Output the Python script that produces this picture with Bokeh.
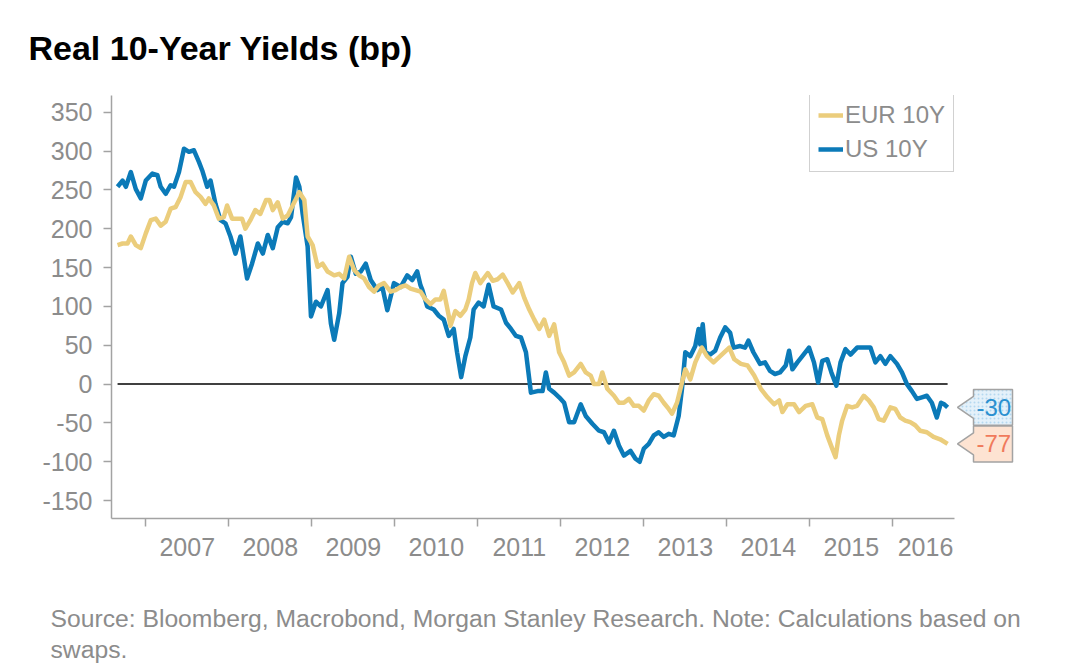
from bokeh.plotting import figure
from bokeh.models import (FixedTicker, Legend, LegendItem, Title, CustomJSTickFormatter)
from bokeh.core.properties import value
from bokeh.embed import file_html
from bokeh.resources import INLINE

# ---------------- data (decimal years, basis points) ----------------
us_dates = [2006.66, 2006.72, 2006.76, 2006.82, 2006.88, 2006.94, 2007.00, 2007.08, 2007.14, 2007.18,
            2007.24, 2007.30, 2007.34, 2007.40, 2007.46, 2007.52, 2007.58, 2007.64, 2007.68, 2007.74,
            2007.78, 2007.84, 2007.90, 2007.96, 2008.02, 2008.08, 2008.14, 2008.22, 2008.28, 2008.35,
            2008.41, 2008.47, 2008.53, 2008.59, 2008.65, 2008.71, 2008.75, 2008.81, 2008.85, 2008.89,
            2008.95, 2008.99, 2009.05, 2009.11, 2009.19, 2009.23, 2009.27, 2009.33, 2009.37, 2009.43,
            2009.47, 2009.53, 2009.59, 2009.65, 2009.71, 2009.79, 2009.85, 2009.91, 2009.99, 2010.07,
            2010.15, 2010.21, 2010.27, 2010.31, 2010.33, 2010.39, 2010.47, 2010.53, 2010.59, 2010.65,
            2010.71, 2010.75, 2010.80, 2010.85, 2010.91, 2010.95, 2011.01, 2011.07, 2011.13, 2011.19,
            2011.28, 2011.34, 2011.40, 2011.46, 2011.52, 2011.58, 2011.64, 2011.72, 2011.78, 2011.82,
            2011.86, 2011.92, 2011.98, 2012.04, 2012.10, 2012.16, 2012.24, 2012.30, 2012.38, 2012.46,
            2012.52, 2012.58, 2012.64, 2012.70, 2012.76, 2012.84, 2012.90, 2012.95, 2013.00, 2013.06,
            2013.12, 2013.18, 2013.24, 2013.30, 2013.36, 2013.42, 2013.46, 2013.50, 2013.56, 2013.62,
            2013.66, 2013.68, 2013.71, 2013.74, 2013.80, 2013.86, 2013.92, 2013.98, 2014.04, 2014.08,
            2014.16, 2014.22, 2014.26, 2014.32, 2014.40, 2014.46, 2014.52, 2014.58, 2014.64, 2014.71,
            2014.75, 2014.79, 2014.85, 2014.91, 2014.99, 2015.05, 2015.10, 2015.15, 2015.21, 2015.26,
            2015.32, 2015.37, 2015.43, 2015.49, 2015.57, 2015.65, 2015.73, 2015.79, 2015.85, 2015.91,
            2015.97, 2016.05, 2016.11, 2016.17, 2016.23, 2016.29, 2016.35, 2016.41, 2016.47, 2016.53,
            2016.58, 2016.62, 2016.66]
us_values = [254, 262, 254, 273, 251, 239, 262, 271, 269, 254,
             245, 256, 254, 273, 303, 299, 301, 286, 275, 254,
             262, 232, 211, 207, 190, 168, 190, 136, 155, 181,
             168, 192, 175, 202, 209, 207, 215, 266, 254, 219,
             177, 87, 106, 100, 121, 78, 57, 91, 130, 138,
             164, 142, 145, 155, 134, 121, 125, 95, 130, 125,
             140, 134, 145, 127, 122, 100, 96, 88, 83, 62,
             71, 41, 9, 36, 60, 96, 105, 100, 128, 100,
             96, 79, 71, 62, 60, 41, -11, -9, -9, 15,
             -6, -11, -17, -24, -49, -49, -26, -41, -51, -60,
             -62, -75, -60, -79, -92, -86, -96, -100, -83, -77,
             -66, -62, -68, -64, -66, -41, -6, 41, 36, 49,
             71, 51, 77, 41, 38, 43, 60, 73, 66, 47,
             49, 47, 56, 41, 26, 28, 17, 13, 15, 24,
             43, 19, 28, 36, 47, 28, 2, 30, 32, 15,
             -2, 28, 45, 38, 47, 47, 47, 28, 36, 26,
             36, 26, 15, 0, -9, -19, -17, -15, -24, -43,
             -24, -26, -30]

eur_dates = [2006.66, 2006.72, 2006.78, 2006.82, 2006.88, 2006.94, 2007.00, 2007.06, 2007.12, 2007.18,
             2007.24, 2007.30, 2007.36, 2007.42, 2007.48, 2007.54, 2007.60, 2007.66, 2007.72, 2007.76,
             2007.82, 2007.88, 2007.94, 2007.98, 2008.04, 2008.10, 2008.16, 2008.20, 2008.26, 2008.32,
             2008.38, 2008.45, 2008.49, 2008.53, 2008.59, 2008.65, 2008.71, 2008.77, 2008.85, 2008.91,
             2008.95, 2009.01, 2009.07, 2009.13, 2009.19, 2009.27, 2009.33, 2009.39, 2009.45, 2009.51,
             2009.57, 2009.63, 2009.69, 2009.75, 2009.81, 2009.87, 2009.95, 2010.01, 2010.07, 2010.13,
             2010.19, 2010.31, 2010.37, 2010.43, 2010.49, 2010.55, 2010.59, 2010.65, 2010.67, 2010.73,
             2010.79, 2010.85, 2010.89, 2010.93, 2010.97, 2011.03, 2011.12, 2011.18, 2011.24, 2011.30,
             2011.36, 2011.42, 2011.50, 2011.56, 2011.62, 2011.68, 2011.74, 2011.80, 2011.86, 2011.92,
             2011.98, 2012.04, 2012.10, 2012.16, 2012.24, 2012.30, 2012.36, 2012.40, 2012.46, 2012.50,
             2012.56, 2012.64, 2012.70, 2012.76, 2012.82, 2012.88, 2012.94, 2013.00, 2013.06, 2013.12,
             2013.18, 2013.24, 2013.30, 2013.34, 2013.40, 2013.46, 2013.50, 2013.56, 2013.62, 2013.70,
             2013.76, 2013.84, 2013.92, 2014.03, 2014.09, 2014.17, 2014.25, 2014.33, 2014.41, 2014.49,
             2014.57, 2014.63, 2014.67, 2014.73, 2014.81, 2014.87, 2014.95, 2015.03, 2015.09, 2015.15,
             2015.21, 2015.27, 2015.31, 2015.35, 2015.39, 2015.45, 2015.51, 2015.57, 2015.65, 2015.71,
             2015.77, 2015.83, 2015.89, 2015.97, 2016.03, 2016.09, 2016.15, 2016.21, 2016.27, 2016.33,
             2016.41, 2016.49, 2016.57, 2016.66]
eur_values = [179, 181, 181, 190, 179, 175, 194, 211, 213, 204,
              209, 226, 228, 241, 260, 260, 247, 241, 232, 239,
              230, 213, 215, 230, 213, 213, 213, 200, 211, 224,
              219, 237, 237, 224, 234, 213, 217, 230, 247, 237,
              190, 179, 151, 155, 145, 140, 142, 136, 164, 147,
              140, 136, 125, 119, 127, 130, 119, 121, 125, 127,
              123, 119, 109, 103, 109, 109, 120, 88, 75, 94,
              88, 96, 109, 130, 143, 130, 143, 133, 135, 141,
              130, 118, 130, 111, 96, 83, 71, 83, 62, 77,
              41, 28, 11, 15, 26, 15, 11, 0, 0, 15,
              -6, -15, -24, -24, -19, -28, -28, -34, -21, -13,
              -15, -24, -32, -38, -24, 2, 19, 6, 28, 47,
              36, 28, 36, 47, 32, 26, 24, 11, -6, -17,
              -26, -21, -36, -26, -26, -36, -28, -26, -43, -45,
              -66, -83, -94, -66, -47, -28, -30, -28, -15, -21,
              -30, -45, -47, -30, -32, -43, -47, -49, -53, -60,
              -62, -68, -71, -77]

year_labels = list(range(2007, 2017))
y_ticks = list(range(-150, 351, 50))
series_names = ["EUR 10Y", "US 10Y"]

TITLE = "Real 10-Year Yields (bp)"
SOURCE_LINES = ["Source: Bloomberg, Macrobond, Morgan Stanley Research. Note: Calculations based on",
                "swaps."]

# ---------------- styling / geometry ----------------
US_COLOR = "#0b7ab8"
EUR_COLOR = "#ebcd7c"
GREY_TEXT = "#8c8c8c"
GREY_LINE = "#a3a3a3"
FONT = "Liberation Sans"

W, H = 1080, 665
BL, BT = 111, 95            # frame left / top
AXIS_PX = 843               # length of the drawn x axis
FRAME_PX = 909              # frame width (axis + room for end-value callouts)
FRAME_H = 424
BR = W - BL - FRAME_PX
BB = H - BT - FRAME_H

X_START, X_AXIS_END = 2006.587, 2016.743
Y_START, Y_END = -173.0, 371.5
ppx = AXIS_PX / (X_AXIS_END - X_START)     # pixels per year
ppy = FRAME_H / (Y_END - Y_START)          # pixels per bp
X_END = X_START + FRAME_PX / ppx

p = figure(width=W, height=H, x_range=(X_START, X_END), y_range=(Y_START, Y_END),
           output_backend="svg", toolbar_location=None,
           min_border_left=BL, min_border_right=BR, min_border_top=BT, min_border_bottom=BB)
p.outline_line_color = None
p.grid.visible = False
p.background_fill_color = "white"
p.border_fill_color = "white"

# title
p.title.text = TITLE
p.title.text_font = FONT
p.title.text_font_size = "34px"
p.title.text_font_style = "bold"
p.title.text_color = "black"
p.title.align = "left"
p.title.vertical_align = "top"
p.title.offset = 28 - BL
p.title.standoff = 53

# x axis: tick marks at year boundaries (minor), labels mid-year
half_label = 29.0 / ppx
label_pos = [min(y + 0.5, X_AXIS_END - half_label) for y in year_labels]
xa = p.xaxis[0]
xa.bounds = (X_START, X_AXIS_END)
xa.ticker = FixedTicker(ticks=label_pos, minor_ticks=[float(y) for y in year_labels])
xa.formatter = CustomJSTickFormatter(code="return Math.floor(tick).toString();")
xa.major_tick_line_color = None
xa.major_tick_out = 8
xa.major_tick_in = 0
xa.minor_tick_line_color = GREY_LINE
xa.minor_tick_line_width = 1.5
xa.minor_tick_out = 8
xa.minor_tick_in = 0
xa.axis_line_color = GREY_LINE
xa.axis_line_width = 1.5
xa.major_label_text_font = FONT
xa.major_label_text_font_size = "25px"
xa.major_label_text_color = GREY_TEXT
xa.major_label_standoff = 11

ya = p.yaxis[0]
ya.ticker = FixedTicker(ticks=y_ticks)
ya.formatter = CustomJSTickFormatter(code="return tick.toFixed(0);")
ya.major_tick_line_color = GREY_LINE
ya.major_tick_line_width = 1.5
ya.major_tick_out = 8
ya.major_tick_in = 0
ya.minor_tick_line_color = None
ya.axis_line_color = GREY_LINE
ya.axis_line_width = 1.5
ya.major_label_text_font = FONT
ya.major_label_text_font_size = "25px"
ya.major_label_text_color = GREY_TEXT
ya.major_label_standoff = 11

# source note below the axis (two lines), preceded by a blank spacer
spacer = Title(text=" ", text_font_size="1px", standoff=43)
src = Title(text="\n".join(SOURCE_LINES), align="left", vertical_align="top",
            offset=50 - BL, standoff=0,
            text_font=FONT, text_font_size="24.7px", text_font_style="normal",
            text_color=GREY_TEXT, text_line_height=1.174)
p.add_layout(spacer, "below")
p.add_layout(src, "below")

# zero line across the data span
p.segment(x0=[min(us_dates[0], eur_dates[0])], x1=[max(us_dates[-1], eur_dates[-1])],
          y0=[0], y1=[0], line_color="black", line_width=1.5)

us_r = p.line(us_dates, us_values, line_color=US_COLOR, line_width=4.5, line_join="round")
eur_r = p.line(eur_dates, eur_values, line_color=EUR_COLOR, line_width=4.5, line_join="round")

legend = Legend(items=[LegendItem(label=series_names[0], renderers=[eur_r]),
                       LegendItem(label=series_names[1], renderers=[us_r])],
                location=(809 - BL, BT + FRAME_H - 173), margin=0, padding=8, spacing=6,
                glyph_width=25, glyph_height=28, label_height=28, label_standoff=2,
                label_text_font=FONT, label_text_font_size="24px", label_text_color=GREY_TEXT,
                border_line_color=GREY_LINE, border_line_width=1.5,
                background_fill_color="white", background_fill_alpha=1.0)
p.add_layout(legend)

# end-value callouts
def callout(v, fill, text_color, hatch=None):
    tip_x = X_AXIS_END + 3 / ppx
    box_l = tip_x + 16 / ppx
    box_r = tip_x + 55 / ppx
    half = 18 / ppy
    notch = 11 / ppy
    xs = [tip_x, box_l, box_l, box_r, box_r, box_l, box_l]
    ys = [v, v + notch, v + half, v + half, v - half, v - half, v - notch]
    kw = {}
    if hatch:
        kw = dict(hatch_pattern=hatch, hatch_color="#b5d8f0", hatch_scale=4, hatch_weight=1)
    p.patch(xs, ys, fill_color=fill, line_color=GREY_LINE, line_width=1.5, **kw)
    p.text(x=[box_l + 3 / ppx], y=[v], text=[str(int(round(v)))],
           text_font=value(FONT), text_font_size="24px", text_color=text_color,
           text_align="left", text_baseline="middle")

callout(us_values[-1], "#e4f1fa", "#2b90d0", hatch="dot")
callout(eur_values[-1], "#fde3d2", "#f07a5c")

open("out.html", "w").write(file_html(p, INLINE))
